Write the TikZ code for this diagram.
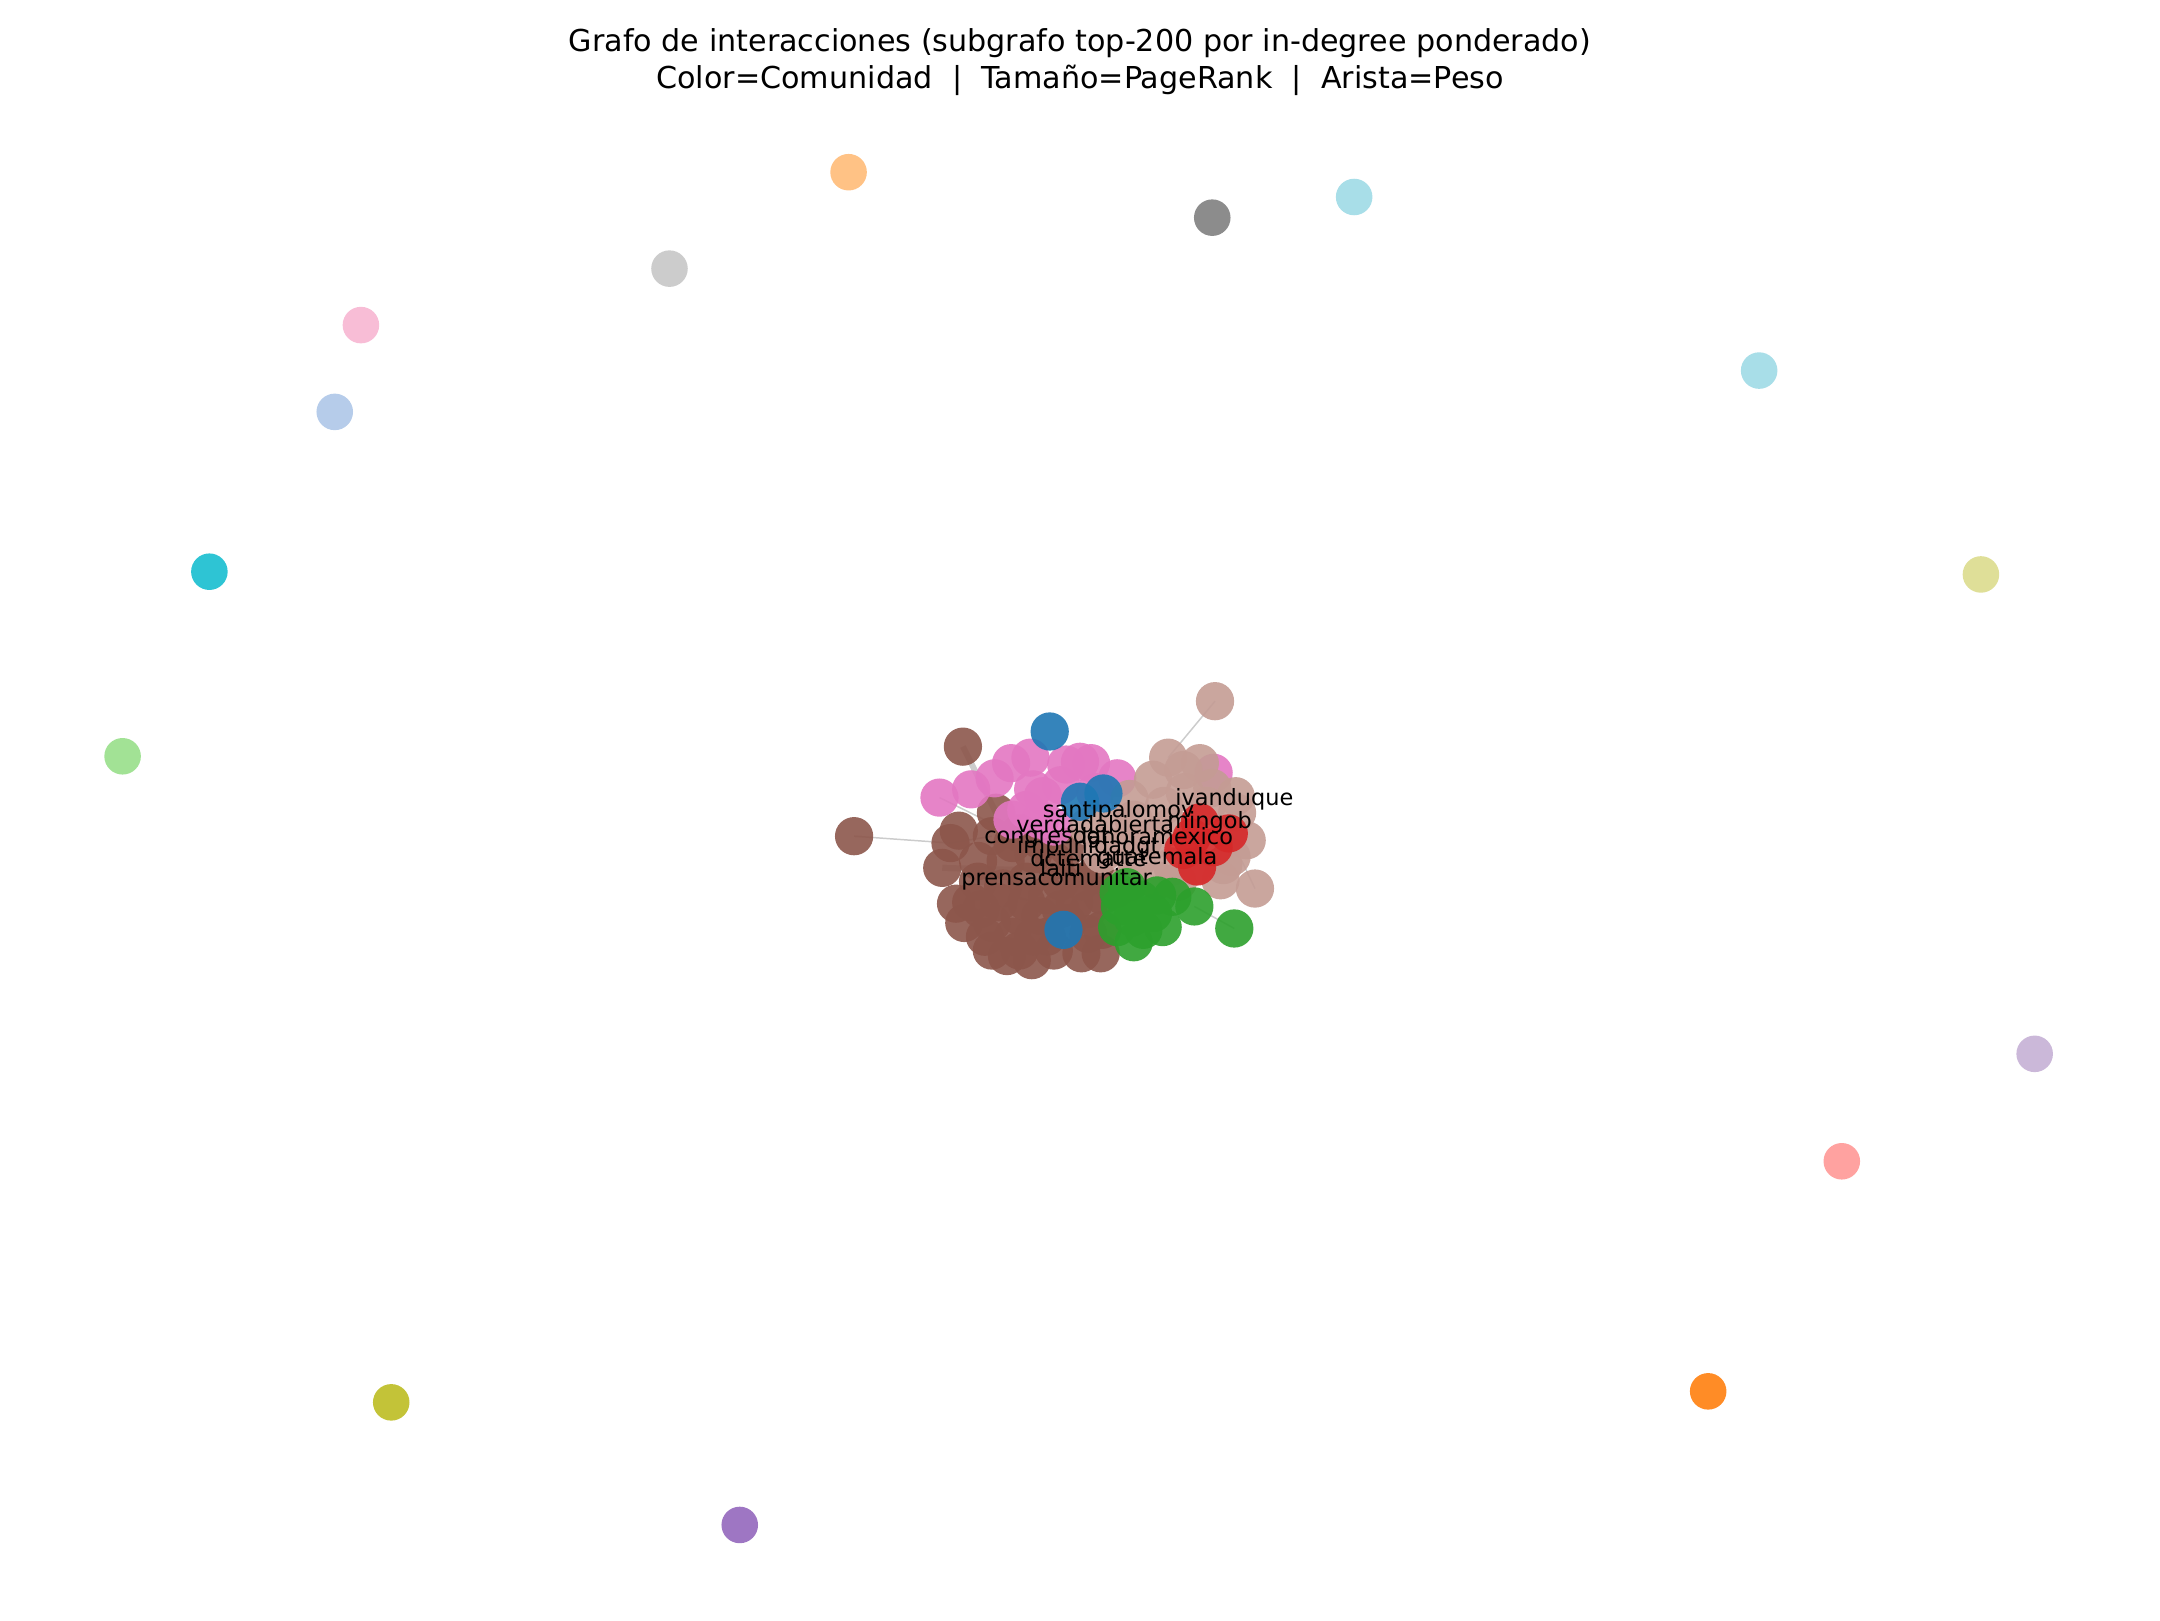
\documentclass[tikz,border=0pt]{standalone}
\usepackage{fontspec}
\setmainfont{DejaVu Sans}
\usepackage{tikz}
\usetikzlibrary{positioning}

% matplotlib tab20
\definecolor{tblue}{HTML}{1F77B4}
\definecolor{tlblue}{HTML}{AEC7E8}
\definecolor{torange}{HTML}{FF7F0E}
\definecolor{tlorange}{HTML}{FFBB78}
\definecolor{tgreen}{HTML}{2CA02C}
\definecolor{tlgreen}{HTML}{98DF8A}
\definecolor{tred}{HTML}{D62728}
\definecolor{tlred}{HTML}{FF9896}
\definecolor{tpurple}{HTML}{9467BD}
\definecolor{tlpurple}{HTML}{C5B0D5}
\definecolor{tbrown}{HTML}{8C564B}
\definecolor{tlbrown}{HTML}{C49C94}
\definecolor{tpink}{HTML}{E377C2}
\definecolor{tlpink}{HTML}{F7B6D2}
\definecolor{tgray}{HTML}{7F7F7F}
\definecolor{tlgray}{HTML}{C7C7C7}
\definecolor{tolive}{HTML}{BCBD22}
\definecolor{tlolive}{HTML}{DBDB8D}
\definecolor{tcyan}{HTML}{17BECF}
\definecolor{tlcyan}{HTML}{9EDAE5}
\definecolor{edgegray}{HTML}{CCCCCC}

\begin{document}
\begin{tikzpicture}[x=0.0162cm, y=-0.0162cm]
    \tikzstyle{usr}=[circle, inner sep=0pt, minimum size=0.43cm, fill opacity=0.9, draw=none]
    \tikzstyle{core}=[usr, minimum size=0.45cm]
    \tikzstyle{lnk}=[draw=edgegray, line width=0.5pt]
    \tikzstyle{lnkb}=[draw=edgegray, line width=2pt]
    \tikzstyle{lbl}=[font=\fontsize{7.5}{9}\selectfont, inner sep=0pt, text=black]

    \useasboundingbox (0,0) rectangle (1568,1176);

    % title
    \node[font=\fontsize{10.1}{12.6}\selectfont, align=center] (title) at (784,45)
        {Grafo de interacciones (subgrafo top-200 por in-degree ponderado)\\
         Color=Comunidad \ | \ Tamaño=PageRank \ | \ Arista=Peso};

    % isolated communities
    \foreach \n/\x/\y/\c in {o1/616/125/tlorange, o2/880/158/tgray, o3/983/143/tlcyan,
        o4/486/195/tlgray, o5/262/236/tlpink, o6/243/299/tlblue, o7/1277/269/tlcyan,
        o8/152/415/tcyan, o9/1438/417/tlolive, o10/89/549/tlgreen, o11/1477/765/tlpurple,
        o12/1337/843/tlred, o13/284/1018/tolive, o14/1240/1010/torange, o15/537/1107/tpurple}
        \node[usr, fill=\c] (\n) at (\x,\y) {};

    % coordinates of the main component (edges go below the nodes)
    \foreach \n/\x/\y in {b1/620/607, b2/699/542, b3/723/590, b4/690/612, b5/684/630,
        b6/694/656, b7/700/670, b8/715/680, b9/731/694, b10/749/697, b11/785/692,
        b12/799/692, b13/720/607, b14/760/632, b15/740/640, b16/705/640,
        p1/682/579, p2/745/610, l1/882/509, l2/848/550, g1/896/674, g2/867/658,
        r1/892/605, l3/911/645}
        \coordinate (\n) at (\x,\y);

    \draw[lnk] (b1) -- (b4);
    \draw[lnk] (l1) -- (l2);
    \draw[lnkb] (b2) -- (b3);
    \draw[lnk] (p1) -- (p2);
    \draw[lnkb] (b5) -- (b14);
    \draw[lnkb] (b16) -- (b15);
    \draw[lnk] (b4) -- (b13);
    \draw[lnk] (g1) -- (g2);
    \draw[lnk] (r1) -- (l3);

    % brown community
    \foreach \x/\y in {620/607, 699/542, 723/590, 696/603, 690/612, 684/630, 694/656,
        700/670, 715/680, 731/694, 749/697, 785/692, 799/692, 720/607, 710/640, 725/655,
        740/665, 760/680, 775/670, 760/650, 745/640, 730/625, 750/620, 770/640, 790/660,
        800/675, 755/665, 720/670, 735/680, 785/640, 765/625, 740/605, 710/625, 780/655,
        800/650, 765/690, 712/660, 728/645, 745/655, 770/660, 790/678, 750/680, 735/612,
        755/610, 775/615, 795/635, 810/645, 705/655, 740/690, 720/690}
        \node[core, fill=tbrown] (b-\x-\y) at (\x,\y) {};

    % pink community
    \foreach \x/\y in {682/579, 705/573, 722/565, 734/554, 748/550, 774/555, 784/553,
        792/554, 811/565, 750/573, 745/588, 757/578, 881/561, 765/600, 755/595, 770/570,
        735/595, 795/575}
        \node[core, fill=tpink] (p-\x-\y) at (\x,\y) {};

    % light brown community
    \foreach \x/\y in {882/509, 848/550, 871/554, 837/566, 859/559, 897/578, 898/590,
        894/622, 911/645, 876/585, 823/595, 837/610, 851/629, 840/639, 866/629, 811/615,
        886/639, 820/580, 845/585, 790/600, 800/620, 825/625, 860/575, 880/572, 830/610,
        810/600, 850/600, 905/610, 888/628, 820/640, 855/640}
        \node[core, fill=tlbrown] (l-\x-\y) at (\x,\y) {};

    % red community
    \foreach \x/\y in {892/605, 871/597, 869/629, 859/617, 881/615, 865/608}
        \node[core, fill=tred] (r-\x-\y) at (\x,\y) {};

    % green community
    \foreach \x/\y in {896/674, 867/658, 844/673, 823/684, 813/658, 828/653, 811/673,
        837/663, 851/651, 818/644, 830/675, 822/666, 840/650, 812/648}
        \node[core, fill=tgreen] (g-\x-\y) at (\x,\y) {};

    % blue community
    \foreach \x/\y in {762/531, 784/582, 801/576, 772/675}
        \node[core, fill=tblue] (u-\x-\y) at (\x,\y) {};

    % labels
    \node[lbl] (ivanduque) at (896,580) {ivanduque};
    \node[lbl] (santipalomov) at (812,589) {santipalomov};
    \node[lbl] (verdad) at (795,598) {verdadabierta};
    \node[lbl] (mingob) at (878,597) {mingob};
    \node[lbl] (congreso) at (760,608) {congresogt};
    \node[lbl] (mexico) at (840,607) {lahoramexico};
    \node[lbl] (impunidad) at (790,615) {impunidadgt};
    \node[lbl] (guatemala) at (840,623) {guatemala};
    \node[lbl] (matte) at (790,623) {dctematte};
    \node[lbl] (lalti) at (770,630) {lalti};
    \node[lbl] (prensa) at (767,638) {prensacomunitar};
\end{tikzpicture}
\end{document}
